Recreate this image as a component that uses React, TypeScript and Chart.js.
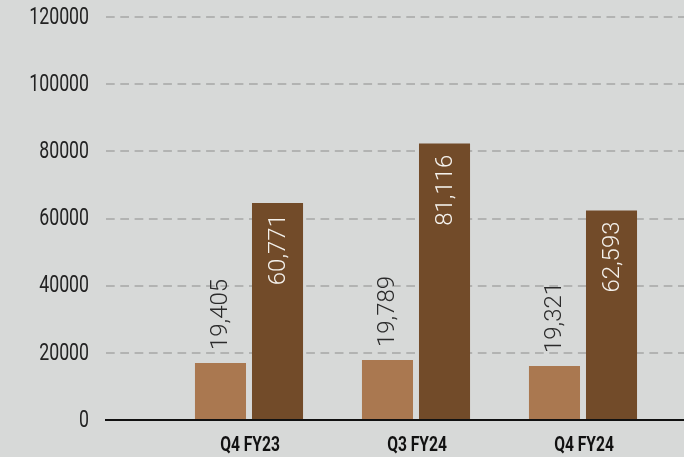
import React, { useEffect, useRef } from "react";
import { Chart, registerables } from "chart.js";

Chart.register(...registerables);

const CATEGORIES = ["Q4 FY23", "Q3 FY24", "Q4 FY24"];
const SERIES_A_HEIGHTS = [16950, 17850, 16050];
const SERIES_B_HEIGHTS = [64600, 82300, 62400];
const SERIES_A_LABELS = ["19,405", "19,789", "19,321"];
const SERIES_B_LABELS = ["60,771", "81,116", "62,593"];
const Y_TICKS = [0, 20000, 40000, 60000, 80000, 100000, 120000];

const BG = "#d7d9d8";
const LIGHT = "#aa7850";
const DARK = "#724b29";

// Draws bar value labels rotated, and condensed-looking axis tick labels.
const labelPlugin = {
  id: "barLabels",
  afterDatasetsDraw(chart: any) {
    const ctx = chart.ctx;
    const sets = [
      { labels: SERIES_A_LABELS, color: "#2b2b2b", inside: false },
      { labels: SERIES_B_LABELS, color: "#f4f1ec", inside: true },
    ];
    sets.forEach((s, di) => {
      const meta = chart.getDatasetMeta(di);
      meta.data.forEach((el: any, i: number) => {
        ctx.save();
        ctx.font = "300 24px Roboto";
        ctx.fillStyle = s.color;
        ctx.textBaseline = "middle";
        if (s.inside) {
          ctx.translate(el.x + 1, el.y + 11);
          ctx.rotate(-Math.PI / 2);
          ctx.textAlign = "right";
        } else {
          ctx.translate(el.x + 1, el.y - 13);
          ctx.rotate(-Math.PI / 2);
          ctx.textAlign = "left";
        }
        ctx.fillText(s.labels[i], 0, 0);
        ctx.restore();
      });
    });

    const y = chart.scales.y;
    const x = chart.scales.x;
    // y tick labels
    y.ticks.forEach((t: any) => {
      const py = y.getPixelForValue(t.value);
      ctx.save();
      ctx.font = "400 23px Roboto";
      ctx.fillStyle = "#222";
      ctx.textAlign = "right";
      ctx.textBaseline = "middle";
      ctx.translate(y.right - 17, py + 1);
      ctx.scale(0.77, 1);
      ctx.fillText(String(t.value), 0, 0);
      ctx.restore();
    });
    // x tick labels
    x.ticks.forEach((t: any) => {
      const px = x.getPixelForValue(t.value);
      ctx.save();
      ctx.font = "700 20px Roboto";
      ctx.fillStyle = "#111";
      ctx.textAlign = "center";
      ctx.textBaseline = "middle";
      ctx.translate(px + 1, x.top + 26);
      ctx.scale(0.78, 1);
      ctx.fillText(CATEGORIES[Math.round(t.value) - 1] ?? "", 0, 0);
      ctx.restore();
    });
  },
};

const bgPlugin = {
  id: "bg",
  beforeDraw(chart: any) {
    const ctx = chart.ctx;
    ctx.save();
    ctx.fillStyle = BG;
    ctx.fillRect(0, 0, chart.width, chart.height);
    ctx.restore();
  },
};

export default function App() {
  const ref = useRef<HTMLCanvasElement>(null);
  useEffect(() => {
    document.body.style.margin = "0";
    document.body.style.background = BG;
    const chart = new Chart(ref.current as HTMLCanvasElement, {
      type: "bar",
      data: {
        datasets: [
          {
            data: SERIES_A_HEIGHTS.map((v, i) => ({ x: i + 1, y: v })),
            backgroundColor: LIGHT,
            categoryPercentage: 0.683,
            barPercentage: 0.895,
          },
          {
            data: SERIES_B_HEIGHTS.map((v, i) => ({ x: i + 1, y: v })),
            backgroundColor: DARK,
            categoryPercentage: 0.683,
            barPercentage: 0.895,
          },
        ] as any,
      },
      options: {
        animation: false,
        responsive: false,
        layout: { padding: { top: 17, left: 0, right: 0, bottom: 0 } },
        plugins: { legend: { display: false }, tooltip: { enabled: false } },
        scales: {
          x: {
            type: "linear",
            offset: false,
            min: 0.1437,
            max: 3.6048,
            grid: { display: false, offset: false },
            border: { display: true, color: "#111", width: 2 },
            afterBuildTicks: (s: any) => {
              s.ticks = CATEGORIES.map((_, i) => ({ value: i + 1 }));
            },
            afterFit: (s: any) => {
              s.height = 37;
            },
            ticks: { display: false },
          },
          y: {
            min: 0,
            max: 120000,
            afterBuildTicks: (s: any) => {
              s.ticks = Y_TICKS.map((v) => ({ value: v }));
            },
            afterFit: (s: any) => {
              s.width = 106;
            },
            grid: { color: "#b2b3b2", lineWidth: 2, drawTicks: false },
            border: { display: false, dash: [8.7, 5.6] },
            ticks: { display: false },
          },
        },
      } as any,
      plugins: [bgPlugin, labelPlugin],
    });
    return () => chart.destroy();
  }, []);
  return <canvas ref={ref} width={684} height={457} style={{ display: "block" }} />;
}
